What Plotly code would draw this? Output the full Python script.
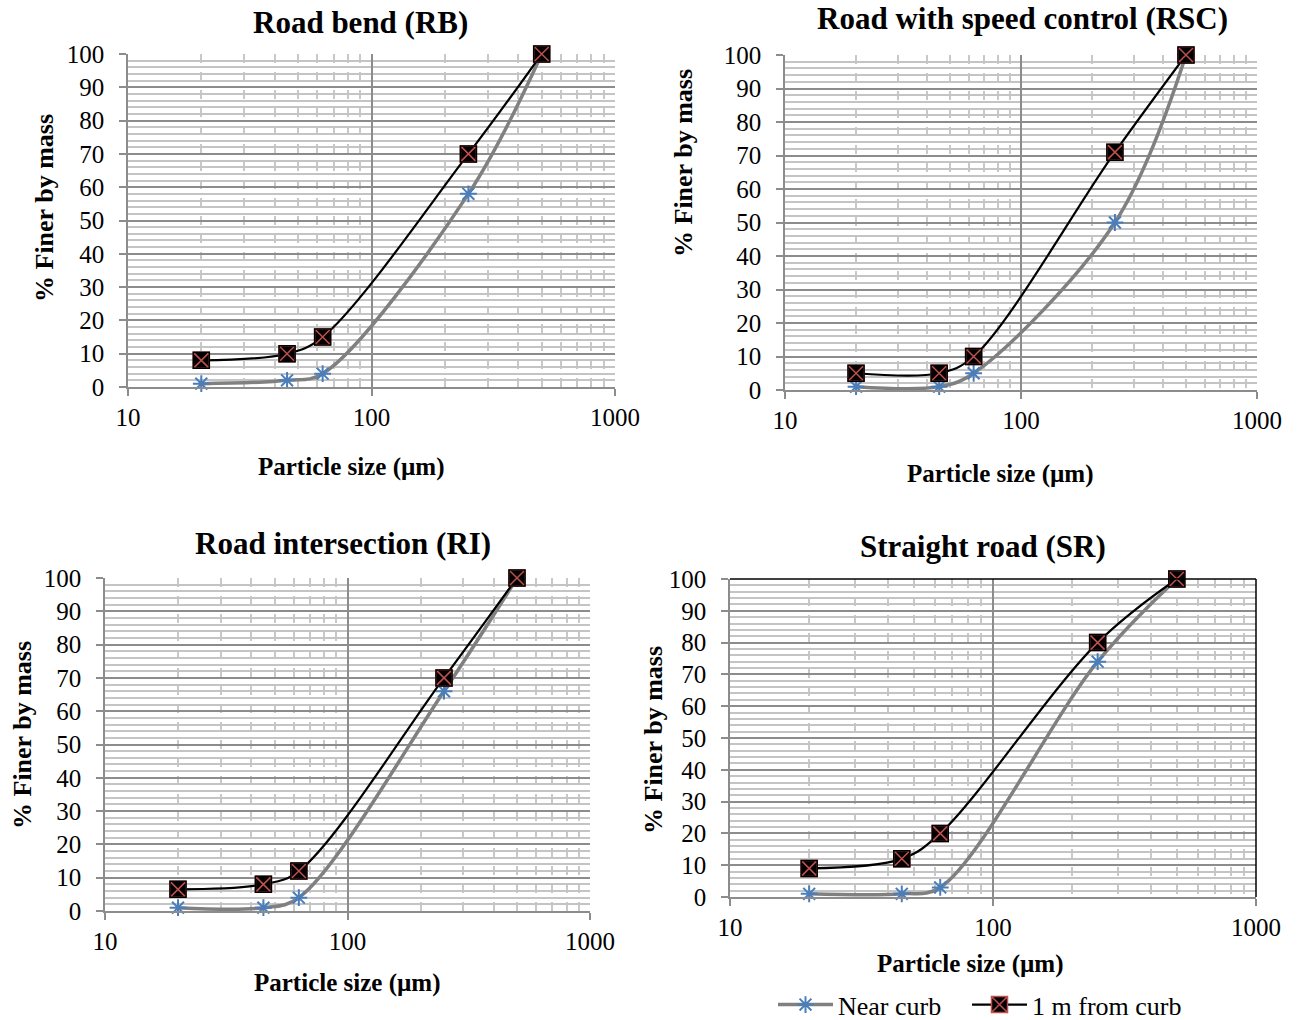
import plotly.graph_objects as go

sizes = [20, 45, 63, 250, 500]

rb_near = [1, 2, 4, 58, 100]
rb_1m = [8, 10, 15, 70, 100]
rsc_near = [1, 1, 5, 50, 100]
rsc_1m = [5, 5, 10, 71, 100]
ri_near = [1, 1, 4, 66, 100]
ri_1m = [6.5, 8, 12, 70, 100]
sr_near = [1, 1, 3, 74, 100]
sr_1m = [9, 12, 20, 80, 100]

titles = ["Road bend (RB)", "Road with speed control (RSC)",
          "Road intersection (RI)", "Straight road (SR)"]
series_names = ["Near curb", "1 m from curb"]
x_ticks = [10, 100, 1000]
y_ticks = [0, 10, 20, 30, 40, 50, 60, 70, 80, 90, 100]

W, H = 1299, 1020
FONT = "Liberation Serif"

# panel plot areas in pixels: (left, right, top, bottom)
panels = [
    (128, 615, 54, 387),
    (785, 1257, 55, 390),
    (105, 590, 578, 911),
    (730, 1256, 579, 897),
]
title_pos = [(360, 22), (1022, 18), (343, 543), (983, 546)]
ytitle_pos = [(45, 208), (683, 163), (22, 735), (653, 740)]
xtitle_pos = [(352, 467), (1000, 474), (347, 983), (970, 964)]

data = [(rb_near, rb_1m), (rsc_near, rsc_1m), (ri_near, ri_1m), (sr_near, sr_1m)]

fig = go.Figure()
layout = {}
annotations = []
shapes = []

for i, ((near, far), (l, r, t, b)) in enumerate(zip(data, panels)):
    n = i + 1
    xa = "x" if n == 1 else f"x{n}"
    ya = "y" if n == 1 else f"y{n}"
    fig.add_trace(go.Scatter(
        x=sizes, y=near, xaxis=xa, yaxis=ya, name=series_names[0],
        mode="lines+markers", line=dict(color="#808080", width=3.5, shape="spline", smoothing=1),
        marker=dict(symbol="asterisk-open", size=14, color="#4a7ebb", line=dict(width=2, color="#4a7ebb")),
        showlegend=(n == 1), legend="legend", legendgroup="near", cliponaxis=False))
    fig.add_trace(go.Scatter(
        x=sizes, y=far, xaxis=xa, yaxis=ya, name=series_names[1],
        mode="lines+markers", line=dict(color="#000000", width=2.2, shape="spline", smoothing=1),
        marker=dict(symbol="square-x", size=16, color="#000000", line=dict(width=1.5, color="#c0504d")),
        showlegend=(n == 1), legend="legend2", legendgroup="far", cliponaxis=False))
    # black outline over the red-crossed squares
    fig.add_trace(go.Scatter(
        x=sizes, y=far, xaxis=xa, yaxis=ya, name=series_names[1],
        mode="markers", marker=dict(symbol="square-open", size=16, color="#000000",
                                    line=dict(width=1.5, color="#000000")),
        showlegend=False, legend="legend2", legendgroup="far", cliponaxis=False, hoverinfo="skip"))

    xkey = "xaxis" if n == 1 else f"xaxis{n}"
    ykey = "yaxis" if n == 1 else f"yaxis{n}"
    layout[xkey] = dict(
        type="log", range=[1, 3], domain=[l / W, r / W], anchor=ya, automargin=False,
        tickvals=x_ticks, ticktext=[str(v) for v in x_ticks],
        ticks="outside", ticklen=7, tickcolor="#8c8c8c", tickwidth=1.5,
        showline=True, linecolor="#8c8c8c", linewidth=1.5,
        showgrid=True, gridcolor="#8c8c8c", gridwidth=1.5,
        minor=dict(dtick="D1", showgrid=True, gridcolor="#c8c8c8", gridwidth=1.5, griddash="dash", ticks=""),
        tickfont=dict(family=FONT, size=25, color="black"), zeroline=False,
    )
    layout[ykey] = dict(
        range=[0, 100], domain=[1 - b / H, 1 - t / H], anchor=xa, automargin=False,
        tickvals=y_ticks, ticks="outside", ticklen=7, tickcolor="#8c8c8c", tickwidth=1.5,
        ticklabelstandoff=10,
        showline=True, linecolor="#8c8c8c", linewidth=1.5,
        showgrid=True, gridcolor="#8c8c8c", gridwidth=1.5,
        minor=dict(dtick=2, showgrid=True, gridcolor="#c4c4c4", gridwidth=1.5, ticks=""),
        tickfont=dict(family=FONT, size=25, color="black"), zeroline=False,
    )
    tx, ty = title_pos[i]
    annotations.append(dict(text=f"<b>{titles[i]}</b>", x=tx / W, y=1 - ty / H, xref="paper", yref="paper",
                            showarrow=False, font=dict(family=FONT, size=31, color="black"),
                            xanchor="center", yanchor="middle"))
    yx, yy = ytitle_pos[i]
    annotations.append(dict(text="<b>% Finer by mass</b>", x=yx / W, y=1 - yy / H, xref="paper", yref="paper",
                            showarrow=False, textangle=-90, font=dict(family=FONT, size=26, color="black"),
                            xanchor="center", yanchor="middle"))
    xx, xy = xtitle_pos[i]
    annotations.append(dict(text="<b>Particle size (µm)</b>", x=xx / W, y=1 - xy / H, xref="paper", yref="paper",
                            showarrow=False, font=dict(family=FONT, size=25, color="black"),
                            xanchor="center", yanchor="middle"))

# black border on top and right of SR panel
shapes.append(dict(type="line", xref="x4 domain", yref="y4 domain", x0=0, x1=1, y0=1, y1=1,
                   line=dict(color="black", width=1.5)))
shapes.append(dict(type="line", xref="x4 domain", yref="y4 domain", x0=1, x1=1, y0=0, y1=1,
                   line=dict(color="black", width=1.5)))

legend_common = dict(orientation="h", y=-0.008, xanchor="left", yanchor="bottom",
                     font=dict(family=FONT, size=26, color="black"), itemwidth=55,
                     bgcolor="rgba(0,0,0,0)", tracegroupgap=0)

fig.update_layout(
    width=W, height=H, margin=dict(l=0, r=0, t=0, b=0, autoexpand=False),
    paper_bgcolor="white", plot_bgcolor="white",
    font=dict(family=FONT, color="black"),
    annotations=annotations, shapes=shapes,
    legend=dict(x=773 / W, **legend_common),
    legend2=dict(x=967 / W, **legend_common),
    **layout,
)

fig.write_html("out.html")
